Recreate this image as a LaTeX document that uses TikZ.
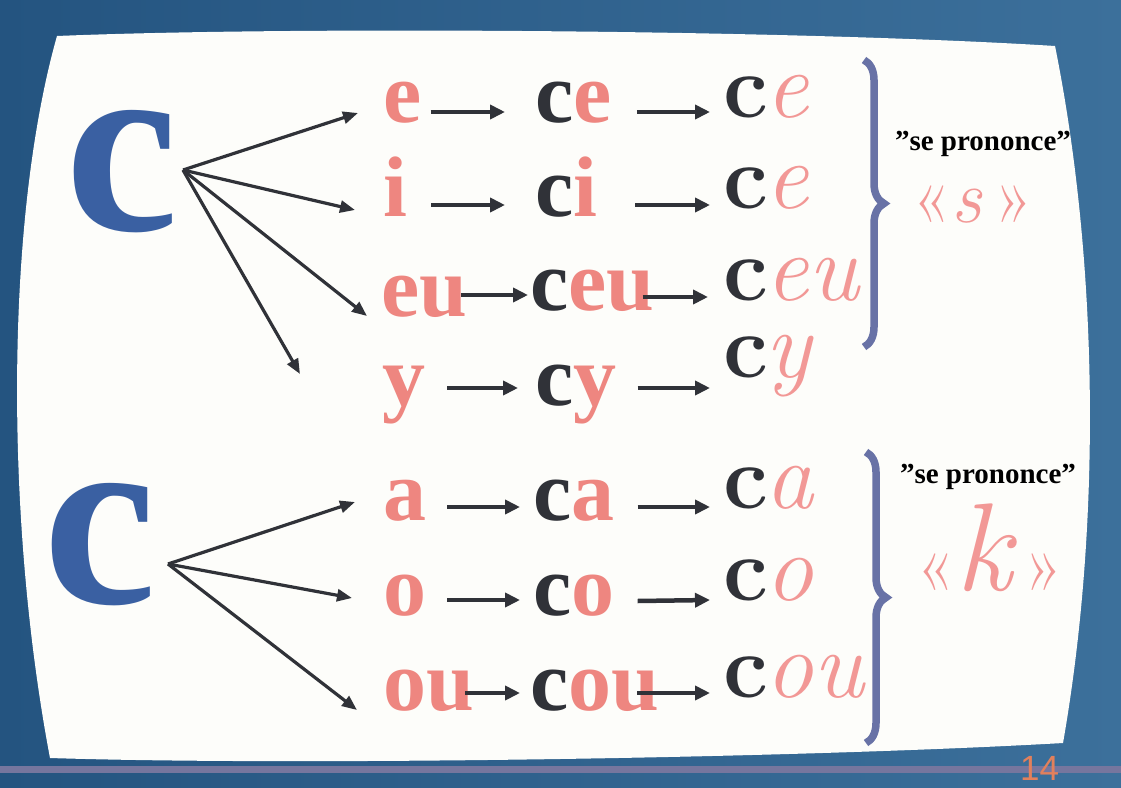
\documentclass[tikz,border=0pt]{standalone}
\usepackage{fontspec}
\usetikzlibrary{arrows.meta,decorations.pathreplacing,positioning}
\newfontfamily\timesf{Liberation Serif}
\newfontfamily\arialf{Liberation Sans}

\definecolor{slideblue}{RGB}{60,112,155}
\definecolor{slidedark}{RGB}{36,84,128}
\definecolor{screenwhite}{RGB}{253,253,250}
\definecolor{pinkA}{RGB}{238,134,128}
\definecolor{pinkB}{RGB}{242,152,150}
\definecolor{inkC}{RGB}{48,50,56}
\definecolor{bigblue}{RGB}{58,96,162}
\definecolor{bracecol}{RGB}{104,114,166}
\definecolor{pagenum}{RGB}{226,128,92}
\definecolor{stripe}{RGB}{118,118,158}

\newcommand\dk{\textcolor{inkC}{c}}
\newcommand\scc{\textcolor{inkC}{\bfseries\fontsize{90}{90}\selectfont c}\kern-3pt}
\newcommand\pk[1]{\textcolor{pinkA}{#1}}
\newcommand\ck[1]{\textcolor{pinkB}{\itshape #1}}

\tikzset{
  bold letters/.style={anchor=base west,inner sep=0pt,text=pinkA,text height=28pt,text depth=0pt,
    font={\timesf\bfseries\fontsize{86}{86}\selectfont}},
  cursive letters/.style={anchor=base west,inner sep=0pt,text height=28pt,text depth=0pt,
    font={\fontsize{96}{96}\selectfont}},
  big c/.style={inner sep=0pt,text=bigblue,font={\timesf\bfseries\fontsize{255}{255}\selectfont}},
  fan arrow/.style={line width=3.2pt,draw=inkC,-{Triangle[length=15pt,width=12pt,fill=inkC]}},
  link arrow/.style={line width=4.5pt,draw=inkC,-{Triangle[length=15pt,width=14pt,fill=inkC]}},
  brace path/.style={decorate,decoration={brace,amplitude=20pt},line width=7.5pt,draw=bracecol},
  say label/.style={inner sep=0pt,anchor=base,font={\timesf\bfseries\fontsize{29}{29}\selectfont}},
  sound label/.style={inner sep=0pt,anchor=base,text=pinkB,font={\fontsize{76}{76}\selectfont}},
}

\begin{document}
\begin{tikzpicture}[x=1pt,y=-1pt]
  % slide and screen
  \useasboundingbox (0,0) rectangle (1121,787);
  \shade[left color=slidedark,right color=slideblue] (0,0) rectangle (1121,787);
  \fill[stripe] (0,766) rectangle (1121,773);
  \fill[screenwhite] (57,36) .. controls (300,26) and (800,30) .. (1055,46)
    .. controls (1098,260) and (1102,520) .. (1063,743)
    .. controls (800,758) and (300,766) .. (50,758)
    .. controls (5,520) and (5,220) .. (57,36) -- cycle;
  \node[anchor=base west,inner sep=0pt,text=pagenum,font={\arialf\fontsize{35}{35}\selectfont}] (page) at (1020,780) {14};

  % the big c's
  \node[big c] (C1) at (122,172) {c};
  \node[big c] (C2) at (100,545) {c};
  \coordinate (O1) at (183,170);
  \coordinate (O2) at (168,564);
  \coordinate (Yend) at (300,374);

  % first column
  \node[bold letters] (e1)  at (383,122) {e};
  \node[bold letters] (i1)  at (383,216) {i};
  \node[bold letters] (eu1) at (381,316) {eu};
  \node[bold letters] (y1)  at (382,405) {y};
  \node[bold letters] (a1)  at (383,520) {a};
  \node[bold letters] (o1)  at (383,615) {o};
  \node[bold letters] (ou1) at (383,710) {ou};

  % second column
  \node[bold letters] (ce2)  at (535,122) {\dk e};
  \node[bold letters] (ci2)  at (535,216) {\dk i};
  \node[bold letters] (ceu2) at (530,310) {\dk eu};
  \node[bold letters] (cy2)  at (535,405) {\dk y};
  \node[bold letters] (ca2)  at (533,520) {\dk a};
  \node[bold letters] (co2)  at (533,615) {\dk o};
  \node[bold letters] (cou2) at (530,710) {\dk ou};

  % third column, cursive
  \node[cursive letters] (ce3)  at (723,117) {\scc\ck{e}};
  \node[cursive letters] (ci3)  at (723,208) {\scc\ck{e}};
  \node[cursive letters] (ceu3) at (723,300) {\scc\ck{eu}};
  \node[cursive letters] (cy3)  at (723,377) {\scc\ck{y}};
  \node[cursive letters] (ca3)  at (723,508) {\scc\ck{a}};
  \node[cursive letters] (co3)  at (723,600) {\scc\ck{o}};
  \node[cursive letters] (cou3) at (723,697) {\scc\ck{ou}};

  % fans
  \draw[fan arrow] (O1) -- ([shift={(-25,5)}]e1.west);
  \draw[fan arrow] (O1) -- ([shift={(-28,8)}]i1.west);
  \draw[fan arrow] (O1) -- ([shift={(-14,14)}]eu1.west);
  \draw[fan arrow] (O1) -- (Yend);
  \draw[fan arrow] (O2) -- ([shift={(-28,-4)}]a1.west);
  \draw[fan arrow] (O2) -- ([shift={(-31,-3)}]o1.west);
  \draw[fan arrow] (O2) -- ([shift={(-26,14)}]ou1.west);

  % first to second column
  \draw[link arrow] ([shift={(9,4)}]e1.east)   -- ([shift={(-30,4)}]ce2.west);
  \draw[link arrow] ([shift={(24,3)}]i1.east)  -- ([shift={(-30,3)}]ci2.west);
  \draw[link arrow] ([shift={(-6,-7)}]eu1.east) -- ([shift={(-2,-1)}]ceu2.west);
  \draw[link arrow] ([shift={(22,-3)}]y1.east) -- ([shift={(-17,-3)}]cy2.west);
  \draw[link arrow] ([shift={(21,1)}]a1.east)  -- ([shift={(-13,1)}]ca2.west);
  \draw[link arrow] ([shift={(21,-1)}]o1.east) -- ([shift={(-13,-1)}]co2.west);
  \draw[link arrow] ([shift={(-9,-3)}]ou1.east) -- ([shift={(-10,-3)}]cou2.west);

  % second to third column
  \draw[link arrow] ([shift={(25,4)}]ce2.east)   -- ([shift={(-13,9)}]ce3.west);
  \draw[link arrow] ([shift={(38,3)}]ci2.east)   -- ([shift={(-13,11)}]ci3.west);
  \draw[link arrow] ([shift={(-12,1)}]ceu2.east) -- ([shift={(-15,11)}]ceu3.west);
  \draw[link arrow] ([shift={(21,-3)}]cy2.east)  -- ([shift={(-13,25)}]cy3.west);
  \draw[link arrow] ([shift={(23,1)}]ca2.east)   -- ([shift={(-13,13)}]ca3.west);
  \draw[link arrow] ([shift={(23,0)}]co2.east)   -- ([shift={(-13,14)}]co3.west);
  \draw[link arrow] ([shift={(-22,-3)}]cou2.east) -- ([shift={(-13,10)}]cou3.west);

  % braces and sounds
  \draw[brace path] (864,60) -- (864,347);
  \draw[brace path] (866,452) -- (866,743);
  \node[say label] (say1) at (983,150) {”se prononce”};
  \node[say label] (say2) at (988,483) {”se prononce”};
  \node[sound label] (snd1) at (973,222) {«\textit{s}\,»};
  \node[sound label] (snd2) at (990,590) {«{\fontsize{125}{125}\selectfont\itshape k}\,»};
\end{tikzpicture}
\end{document}
